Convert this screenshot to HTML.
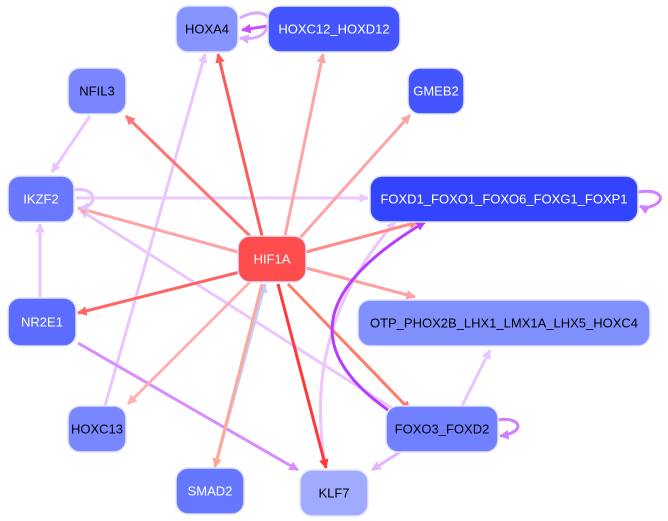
<!DOCTYPE html>
<html><head><meta charset="utf-8"><style>
html,body{margin:0;padding:0;background:#fff;width:668px;height:521px;overflow:hidden}
svg{display:block}
text{font-family:"Liberation Sans",sans-serif;font-size:13px;text-anchor:middle;dominant-baseline:central}
</style></head><body>
<svg width="668" height="521" viewBox="0 0 668 521" xmlns="http://www.w3.org/2000/svg">
<defs>
<marker id="m" viewBox="0 0 10 10" refX="9" refY="5" markerWidth="3.2" markerHeight="3.2" orient="auto-start-reverse" markerUnits="strokeWidth"><path d="M0,0 L10,5 L0,10 z" fill="context-stroke"/></marker>
</defs>
<g fill="none" stroke-width="3" marker-end="url(#m)">
<!-- other edges -->
<path d="M105,406 L205,54" stroke="#ecc4ff"/>
<path d="M90,116 L52,172" stroke="#ecc4ff"/>
<path d="M40,297 L40,224" stroke="#ecc4ff"/>
<path d="M76,198 L368,198" stroke="#ecc8ff"/>
<path d="M395,410 L80,210" stroke="#ecc4ff"/>
<path d="M78,343 L298,470" stroke="#d88cff"/>
<path d="M462,406 L490,350" stroke="#ecc4ff"/>
<path d="M400,452 L372,470" stroke="#e4b4ff"/>
<path d="M326,468 Q300,330 395,222" stroke="#ecc4ff"/>
<path d="M215,467 L265,284" stroke="#c4ccff"/>
<!-- HIF1A edges -->
<path d="M262,236 L218,54" stroke="#ff5a5a"/>
<path d="M285,236 L323,54" stroke="#ffa4a4"/>
<path d="M250,236 L126,116" stroke="#ff7474"/>
<path d="M300,238 L410,115" stroke="#ffa4a4"/>
<path d="M238,252 L78,208" stroke="#ffa4a4"/>
<path d="M306,252 L418,222" stroke="#ff8a8a"/>
<path d="M306,268 L415,297" stroke="#ffa0a0"/>
<path d="M240,272 L78,313" stroke="#ff6464"/>
<path d="M250,282 L128,404" stroke="#ffb0b0"/>
<path d="M262,284 L215,467" stroke="#ffa898"/>
<path d="M278,284 L326,468" stroke="#ff3838"/>
<path d="M288,284 L410,410" stroke="#ff7a68"/>
<path d="M388,410 Q260,320 425,222" stroke="#b83cff"/>
<!-- loops -->
<path d="M268,26 L242,30" stroke="#c850ff"/>
<path d="M240,18 C258,8 272,14 268,24 C266,36 256,40 240,38" stroke="#dca8ff"/>
<path d="M638,192 C660,188 668,200 652,206 C648,208 644,208 640,206" stroke="#d080ff"/>
<path d="M74,190 C96,186 100,206 80,208" stroke="#e4c0ff"/>
<path d="M498,420 C520,416 528,432 500,436" stroke="#d080ff"/>
</g>
<g stroke="#e0e4ff" stroke-width="1.5">
<rect x="176" y="6" width="62" height="46" rx="12" fill="#8794ff"/>
<rect x="268" y="6" width="132" height="46" rx="12" fill="#4455ff"/>
<rect x="68" y="68" width="58" height="46" rx="12" fill="#7a86ff"/>
<rect x="408" y="68" width="56" height="46" rx="12" fill="#4455ff"/>
<rect x="8" y="176" width="66" height="46" rx="12" fill="#6a78ff"/>
<rect x="370" y="176" width="268" height="46" rx="12" fill="#3344ff"/>
<rect x="238" y="236" width="68" height="46" rx="12" fill="#ff4d4d"/>
<rect x="8" y="298" width="68" height="48" rx="12" fill="#5c6cff"/>
<rect x="358" y="300" width="292" height="46" rx="12" fill="#8090ff"/>
<rect x="68" y="406" width="58" height="46" rx="12" fill="#7a88ff"/>
<rect x="386" y="406" width="112" height="46" rx="12" fill="#7080ff"/>
<rect x="176" y="468" width="68" height="46" rx="12" fill="#6677ff"/>
<rect x="300" y="470" width="68" height="46" rx="12" fill="#a0aaff"/>
</g>
<text x="207" y="29" fill="#000">HOXA4</text>
<text x="334" y="29" fill="#fff">HOXC12_HOXD12</text>
<text x="97" y="91" fill="#000">NFIL3</text>
<text x="436" y="91" fill="#fff">GMEB2</text>
<text x="41" y="199" fill="#fff">IKZF2</text>
<text x="504" y="199" fill="#fff">FOXD1_FOXO1_FOXO6_FOXG1_FOXP1</text>
<text x="272" y="259" fill="#fff">HIF1A</text>
<text x="42" y="322" fill="#fff">NR2E1</text>
<text x="504" y="323" fill="#000">OTP_PHOX2B_LHX1_LMX1A_LHX5_HOXC4</text>
<text x="97" y="429" fill="#000">HOXC13</text>
<text x="442" y="429" fill="#000">FOXO3_FOXD2</text>
<text x="210" y="491" fill="#fff">SMAD2</text>
<text x="334" y="493" fill="#000">KLF7</text>
</svg>
</body></html>
